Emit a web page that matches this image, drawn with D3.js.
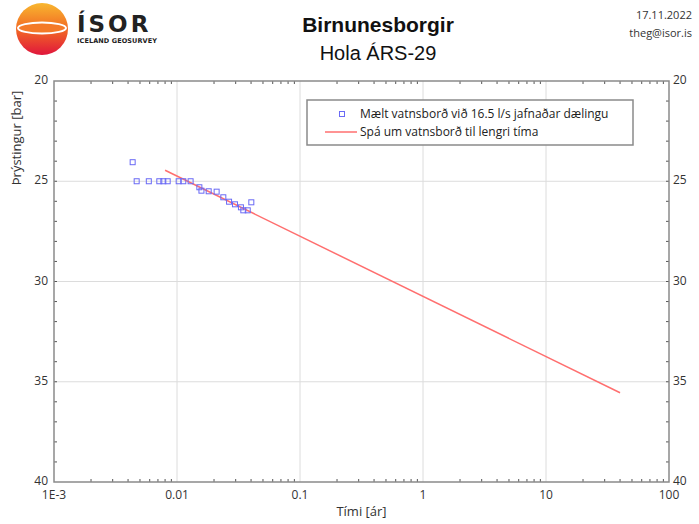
<!DOCTYPE html>
<html>
<head>
<meta charset="utf-8">
<script src="https://cdn.jsdelivr.net/npm/d3@7"></script>
<style>
  body { margin: 0; background: #fff; }
  svg { font-family: "Open Sans", "Noto Sans", sans-serif; }
</style>
</head>
<body>
<svg id="chart"></svg>
<script>
// measured water level (time in years, pressure in bar)
const timeYears = [0.00436, 0.0047, 0.0059, 0.00718, 0.00774, 0.0084, 0.01032, 0.01125, 0.0129,
  0.0152, 0.0158, 0.0181, 0.0210, 0.0238, 0.0265, 0.0296, 0.0331, 0.0346, 0.0376, 0.0402];
const pressureBar = [24.05, 25.0, 25.0, 25.0, 25.0, 25.0, 25.0, 25.0, 25.0,
  25.3, 25.47, 25.5, 25.52, 25.8, 26.02, 26.15, 26.3, 26.45, 26.45, 26.05];
// forecast line
const forecastTime = [0.008, 40];
const forecastPressure = [24.45, 35.55];

const xTickValues = [0.001, 0.01, 0.1, 1, 10, 100];
const xTickLabels = ["1E-3", "0.01", "0.1", "1", "10", "100"];
const yTickValues = [20, 25, 30, 35, 40];
const legendLabels = ["Mælt vatnsborð við 16.5 l/s jafnaðar dælingu", "Spá um vatnsborð til lengri tíma"];

const width = 699;
const height = 524;
const marginTop = 81;
const marginRight = 30;
const marginBottom = 42;
const marginLeft = 54;

const svg = d3.select("#chart")
  .attr("width", width)
  .attr("height", height)
  .attr("viewBox", [0, 0, width, height]);

const x = d3.scaleLog()
  .domain([0.001, 100])
  .range([marginLeft, width - marginRight]);
const y = d3.scaleLinear()
  .domain([20, 40])
  .range([marginTop, height - marginBottom]);

const axisColor = "#8a8a8a";
const labelColor = "#333";

// grid
svg.append("g")
  .attr("stroke", "#dcdcdc")
  .attr("stroke-width", 1)
  .call(g => g.selectAll("line.v")
    .data(xTickValues.slice(1, -1))
    .join("line")
    .attr("x1", d => x(d)).attr("x2", d => x(d))
    .attr("y1", y(20)).attr("y2", y(40)))
  .call(g => g.selectAll("line.h")
    .data(yTickValues.slice(1, -1))
    .join("line")
    .attr("x1", x(0.001)).attr("x2", x(100))
    .attr("y1", d => y(d)).attr("y2", d => y(d)));

// minor ticks
const minorX = [];
for (let e = -3; e < 2; e++) for (let m = 2; m <= 9; m++) minorX.push(m * Math.pow(10, e));
const minorY = d3.range(21, 40);

const ticks = svg.append("g").attr("stroke", "#555").attr("stroke-width", 1);
ticks.selectAll("line.xb").data(minorX).join("line")
  .attr("x1", d => x(d)).attr("x2", d => x(d))
  .attr("y1", y(40)).attr("y2", y(40) - 3);
ticks.selectAll("line.xt").data(minorX).join("line")
  .attr("x1", d => x(d)).attr("x2", d => x(d))
  .attr("y1", y(20)).attr("y2", y(20) + 3);
ticks.selectAll("line.yl").data(minorY).join("line")
  .attr("x1", x(0.001)).attr("x2", x(0.001) + 3)
  .attr("y1", d => y(d)).attr("y2", d => y(d));
ticks.selectAll("line.yr").data(minorY).join("line")
  .attr("x1", x(100)).attr("x2", x(100) - 3)
  .attr("y1", d => y(d)).attr("y2", d => y(d));

// frame
svg.append("rect")
  .attr("x", x(0.001)).attr("y", y(20))
  .attr("width", x(100) - x(0.001)).attr("height", y(40) - y(20))
  .attr("fill", "none")
  .attr("stroke", axisColor)
  .attr("stroke-width", 1.5);

// tick labels
svg.append("g")
  .attr("font-size", 12)
  .attr("fill", labelColor)
  .call(g => g.selectAll("text.xl").data(xTickValues).join("text")
    .attr("x", d => x(d))
    .attr("y", y(40) + 17)
    .attr("text-anchor", "middle")
    .text((d, i) => xTickLabels[i]))
  .call(g => g.selectAll("text.yl").data(yTickValues).join("text")
    .attr("x", x(0.001) - 6)
    .attr("y", d => y(d) + 3)
    .attr("text-anchor", "end")
    .text(d => d))
  .call(g => g.selectAll("text.yr").data(yTickValues).join("text")
    .attr("x", x(100) + 4)
    .attr("y", d => y(d) + 3)
    .attr("text-anchor", "start")
    .text(d => d));

// axis titles
svg.append("text")
  .attr("x", (x(0.001) + x(100)) / 2)
  .attr("y", 516)
  .attr("text-anchor", "middle")
  .attr("font-size", 13)
  .attr("fill", labelColor)
  .text("Tími [ár]");
svg.append("text")
  .attr("transform", "translate(21,138) rotate(-90)")
  .attr("text-anchor", "middle")
  .attr("font-size", 13)
  .attr("fill", labelColor)
  .text("Þrýstingur [bar]");

// forecast line
const lineColor = "#ff6f6f";
const line = d3.line()
  .x(d => x(d[0]))
  .y(d => y(d[1]));
svg.append("path")
  .attr("fill", "none")
  .attr("stroke", lineColor)
  .attr("stroke-width", 1.5)
  .attr("d", line(forecastTime.map((t, i) => [t, forecastPressure[i]])));

// measured points
const markerColor = "#6a6af5";
svg.append("g")
  .attr("fill", "none")
  .attr("stroke", markerColor)
  .attr("stroke-width", 1)
  .selectAll("rect")
  .data(timeYears.map((t, i) => [t, pressureBar[i]]))
  .join("rect")
  .attr("x", d => x(d[0]) - 2.5)
  .attr("y", d => y(d[1]) - 2.5)
  .attr("width", 5)
  .attr("height", 5);

// legend
const lg = svg.append("g");
lg.append("rect")
  .attr("x", 307).attr("y", 100)
  .attr("width", 326).attr("height", 45)
  .attr("fill", "#fff")
  .attr("stroke", axisColor)
  .attr("stroke-width", 1.5);
lg.append("rect")
  .attr("x", 339.5).attr("y", 111.5)
  .attr("width", 5).attr("height", 5)
  .attr("fill", "none")
  .attr("stroke", markerColor);
lg.append("line")
  .attr("x1", 325).attr("x2", 357)
  .attr("y1", 132).attr("y2", 132)
  .attr("stroke", lineColor)
  .attr("stroke-width", 1.5);
lg.selectAll("text").data(legendLabels).join("text")
  .attr("x", 360)
  .attr("y", (d, i) => 118 + i * 18)
  .attr("font-size", 12)
  .attr("fill", "#222")
  .text(d => d);

// titles
svg.append("text")
  .attr("x", 378).attr("y", 32)
  .attr("text-anchor", "middle")
  .style("font-family", "'Liberation Sans', Arial, sans-serif")
  .attr("font-size", 21)
  .attr("font-weight", "bold")
  .attr("fill", "#111")
  .text("Birnunesborgir");
svg.append("text")
  .attr("x", 378).attr("y", 60)
  .attr("text-anchor", "middle")
  .style("font-family", "'Liberation Sans', Arial, sans-serif")
  .attr("font-size", 20)
  .attr("fill", "#111")
  .text("Hola ÁRS-29");
svg.append("text")
  .attr("x", 692).attr("y", 19)
  .attr("text-anchor", "end")
  .attr("font-size", 11)
  .attr("fill", "#333")
  .text("17.11.2022");
svg.append("text")
  .attr("x", 692).attr("y", 37)
  .attr("text-anchor", "end")
  .attr("font-size", 11)
  .attr("fill", "#333")
  .text("theg@isor.is");

// logo
const defs = svg.append("defs");
const grad = defs.append("linearGradient")
  .attr("id", "logoGrad")
  .attr("x1", 0).attr("y1", 0).attr("x2", 0).attr("y2", 1);
grad.append("stop").attr("offset", "0%").attr("stop-color", "#f8b72f");
grad.append("stop").attr("offset", "50%").attr("stop-color", "#f26a24");
grad.append("stop").attr("offset", "100%").attr("stop-color", "#e0163c");
const logo = svg.append("g");
logo.append("circle")
  .attr("cx", 42).attr("cy", 29).attr("r", 26)
  .attr("fill", "url(#logoGrad)");
logo.append("ellipse")
  .attr("cx", 42).attr("cy", 28).attr("rx", 24).attr("ry", 5.5)
  .attr("fill", "#f47a28")
  .attr("stroke", "#fff")
  .attr("stroke-width", 2);
logo.append("text")
  .attr("x", 77).attr("y", 32)
  .style("font-family", "'DejaVu Sans', sans-serif")
  .attr("font-size", 23)
  .attr("font-weight", "bold")
  .attr("letter-spacing", 3)
  .attr("fill", "#222")
  .text("ÍSOR");
logo.append("text")
  .attr("x", 77).attr("y", 43)
  .style("font-family", "'DejaVu Sans', sans-serif")
  .attr("font-size", 6.5)
  .attr("font-weight", "bold")
  .attr("textLength", 80)
  .attr("fill", "#222")
  .text("ICELAND GEOSURVEY");
</script>
</body>
</html>
